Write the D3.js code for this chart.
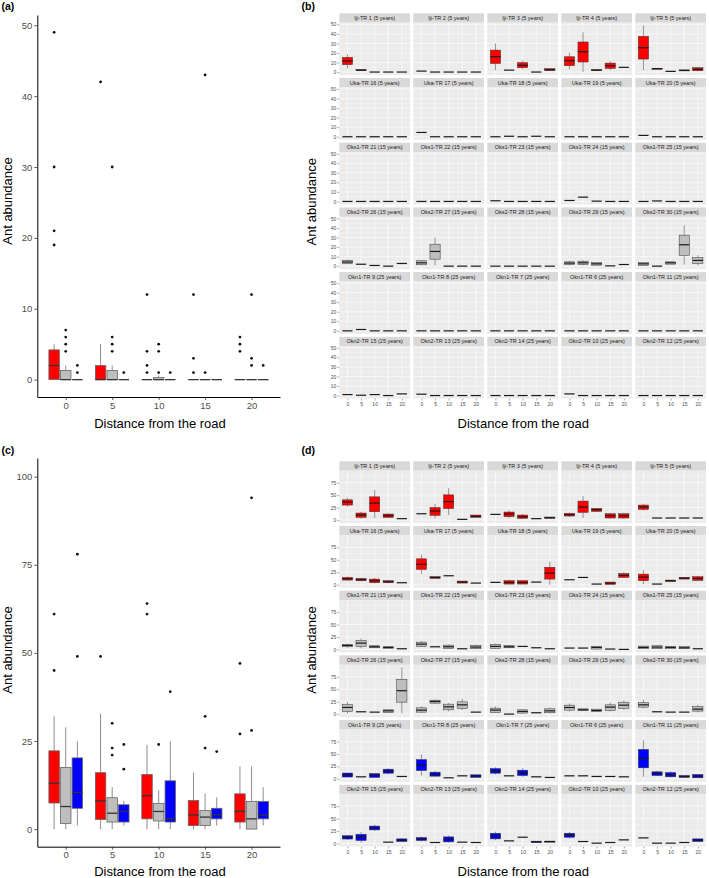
<!DOCTYPE html>
<html><head><meta charset="utf-8">
<script src="https://cdn.jsdelivr.net/npm/d3@7"></script>
<style>body{margin:0;background:#fff;} svg{display:block;}</style>
</head><body><svg id="c" width="709" height="878"></svg>
<script>
// ---------------- DATA ----------------
const distances = [0, 5, 10, 15, 20];
const ageGroups = ["5 years", "15 years", "25 years"];
const ageColors = ["#FF0000", "#BEBEBE", "#0000FF"];

// Box stats: [lowerWhisker, Q1, median, Q3, upperWhisker]; a single number = all equal (flat box)
// Panel (a): abundance per distance, by age group
const statsA5  = [[0,0,2,4.2,5], [0,0,0,2,5], 0, 0, 0];
const statsA15 = [[0,0,0,1.3,2], [0,0,0,1.3,2], [0,0,0,0.3,0.6], 0, 0];
const statsA25 = [0, 0, 0, 0, 0];
const outA5  = [[49,30,21,19], [42], [1,2,4,12], [1,3,12], [4,5,6]];
const outA15 = [[4,5,6,7], [4,5,6,30], [1,4,5], [1,43], [2,3,12]];
const outA25 = [[1,2], [1], [1], [], [2]];
const yTicksA = [0, 10, 20, 30, 40, 50];

// Panel (c)
const statsC5  = [[0,7.4,13,22.2,32], [0,2.7,8,16,32.8], [0,2.9,9.5,15.5,23.9], [0,1,4,8.1,16], [0,2,5,10,17.8]];
const statsC15 = [[0,1.6,6.4,17.5,28.9], [0,2,4.5,8.9,11.9], [0,2.3,5,7.3,11], [0,1,3.4,5.3,10], [0,0,2.9,7.8,17.8]];
const statsC25 = [[1,5.9,10.4,20.2,24.9], [1,2,5,6.9,8], [0,2,2.9,13.7,24.9], [1,2.9,4,5.9,9], [1,2.9,4,7.8,11.9]];
const outC5  = [[61,45], [49], [64,61], [], [47,27]];
const outC15 = [[], [30,23,21], [24], [32,23], [94,28]];
const outC25 = [[78,49], [24,17], [39], [22], []];
const yTicksC = [0, 25, 50, 75, 100];

// Facets (b) and (d): 6 rows x 5 columns
const transects = [
  "Iji-TR 1 (5 years)", "Iji-TR 2 (5 years)", "Iji-TR 3 (5 years)", "Iji-TR 4 (5 years)", "Iji-TR 5 (5 years)",
  "Uka-TR 16 (5 years)", "Uka-TR 17 (5 years)", "Uka-TR 18 (5 years)", "Uka-TR 19 (5 years)", "Uka-TR 20 (5 years)",
  "Oks1-TR 21 (15 years)", "Oks1-TR 22 (15 years)", "Oks1-TR 23 (15 years)", "Oks1-TR 24 (15 years)", "Oks1-TR 25 (15 years)",
  "Oks2-TR 26 (15 years)", "Oks2-TR 27 (15 years)", "Oks2-TR 28 (15 years)", "Oks2-TR 29 (15 years)", "Oks2-TR 30 (15 years)",
  "Okn1-TR 9 (25 years)", "Okn1-TR 8 (25 years)", "Okn1-TR 7 (25 years)", "Okn1-TR 6 (25 years)", "Okn1-TR 11 (25 years)",
  "Okn2-TR 15 (25 years)", "Okn2-TR 13 (25 years)", "Okn2-TR 14 (25 years)", "Okn2-TR 10 (25 years)", "Okn2-TR 12 (25 years)"
];
const transectAge = [0,0,0,0,0, 0,0,0,0,0, 1,1,1,1,1, 1,1,1,1,1, 2,2,2,2,2, 2,2,2,2,2];

const statsB = [
  [[3.8,7.7,11.5,15.4,18.5], [1.2,1.5,2,2.5,2.8], 0, 0, 0],
  [1, 0, 0, 0, 0],
  [[2,9,16,23,30], 2, [2.8,4.5,7,9.8,12], 0, [1,1.5,2.4,3.5,4]],
  [[2.8,6.6,11.9,16,20.6], [0.3,10.5,21.3,31.5,41.6], [1,1.5,2,2.5,3], [1.7,3.8,6.6,9.4,11.5], 4.9],
  [[2,13.6,25.5,37.4,49], [2.8,3,3.5,4,4.2], 0.7, [1,1.2,1.7,2.2,2.5], [0.7,1.4,2.8,4.5,5.6]],
  [0, 0, 0, 0, 0],
  [4.5, 0, 0, 0, 0],
  [0, 0.5, 0, 0.5, 0],
  [0, 0, 0, 0, 0],
  [1.4, 0, 0, 0, 0],
  [0, 0, 0, 0, 0],
  [0, 0, 0, 0, 0],
  [0.7, 0, 0, 0, 0],
  [1, 4.5, 0.3, 0, 0],
  [0, 0.5, 0, 0, 0],
  [[2,2.8,4.3,6,7], 2, 0.7, 0, 2.8],
  [[0.7,1.4,3.5,5.6,6.3], [0.7,7.3,15.4,23,30], 0, 0, 0],
  [0, 0, 0, 0, 0],
  [[0.7,1.7,3.2,4.5,5.6], [0.7,1.7,3.5,5.2,6.3], [1,1,2.4,3.8,3.8], 0.3, 1.7],
  [[0.7,0.7,2.4,3.8,3.8], 0, [2.1,2.1,3.5,4.5,4.5], [1.4,11.2,22.4,32.5,43], [0.7,2.8,6,9,11.5]],
  [0, 1.4, 0, 0, 0],
  [0, 0, 0, 0, 0],
  [0, 0, 0, 0, 0],
  [0, 0, 0, 0, 0],
  [0, 0, 0, 0, 0],
  [1, 0.3, 1, 0, 1.7],
  [1.4, 0, 0, 0, 0],
  [0, 0, 0, 0, 0],
  [1.7, 0, 0, 0, 0],
  [0, 0, 0, 0, 0]
];

const statsD = [
  [[26.6,30,36,40.5,45], [2.7,5.3,10,14,16.6], [4,16.6,34,46.5,60.5], [4,5.3,8.6,12,14], 2.7],
  [12.6, [3.3,9.3,18,25,32], [10,23,37,50.5,64], 1.3, [5.3,5.3,7.3,10,10]],
  [11.3, [4,6.6,12,16,19.3], [2,3.3,6.6,10,12], 2.7, [3.5,3.5,4.7,6,6]],
  [[6,8,10.6,13.3,15.3], [4,15.3,26,38,48.5], [16,17.3,20.6,23.3,24.6], [2,4,8.6,12.6,14.6], [2,4,8.6,12.6,14.6]],
  [[19.3,21.3,26,30,32.6], 4, 4, 4, 4],
  [[8,9.3,12,14.6,16.6], [6.6,8,10,12.6,14], [2.7,4,8,11.3,14], [2.7,4,6,8,10], 4],
  [[21.3,30.6,41,52,60.5], [12.6,12.6,14.6,16,16], 18, [3.3,3.3,5.3,7.3,7.3], 3.3],
  [4.7, [0,1.3,4.7,8,10], [1.3,1.3,4.7,8,8], 5.3, [0,11.3,23.3,35,46.5]],
  [10, 14.6, 1.3, [0.7,0.7,3.3,5.3,5.3], [13.3,14.6,18.6,22.6,25.3]],
  [[1.3,8,15.3,21.3,29.3], 1.3, [6.6,6.6,8,9.3,9.3], [11.3,11.3,13.3,14.6,14.6], [7.3,8.6,12.6,16,18]],
  [[3.3,5.3,8,10,12], [2,6,12.6,18,22], [2.7,3.3,5.3,7.3,8], [2,2,4,5.3,5.3], 1.3],
  [[4.7,6,10.6,14.6,16.6], 5.3, [1,2,5.3,8.6,10], 1.3, [0,1.3,4.7,8,10]],
  [[0.7,2,6,10,12], [3.3,3.3,5.3,8,8], 6, 3.3, 1.3],
  [2.7, 2.7, [0.7,0.7,4,6,6], 0.7, 0],
  [[1.3,1.3,4,6.6,6.6], [1.3,1.3,4.7,7.3,7.3], [1.3,1.3,4,6,6], [1.3,1.3,3.3,6,6], 1.3],
  [[0.8,5.4,13.4,18.8,24.7], 4.7, 4, [3.3,3.3,6.6,8.6,8.6], [2,24,47,70,94]],
  [[2.7,4,8,12.6,15.3], [20.6,22,25.3,28,30], [5.3,8.6,14.6,20,22.6], [8,11.3,18.6,24.6,30.6], 4],
  [[2,3.3,8,12,15.3], 0, [1.3,2,5.3,8.6,10], 2.7, [1.3,2.7,6.6,10.6,13.3]],
  [[5.3,8,13.3,18,21.3], [7.3,7.3,8.6,10.6,10.6], [5.3,5.3,7.3,10,10], [5.3,7.3,14,18.6,23.3], [8.6,11.3,18,24,27.3]],
  [[11.3,14,18.6,23.3,28.6], 4.7, 4, 4, [3.3,6,10,15.3,18.6]],
  [[3.6,3.6,7.6,11.6,11.6], 4, [2.7,2.7,6.6,10.6,10.6], [9.3,11.3,15.3,19.3,21.3], 4.7],
  [[6.6,16.6,28,38.6,49], [4,5.3,9.3,13.3,16], 2, 6, [2.7,2.7,5.3,8,8]],
  [[8.6,11.3,16,20.6,23.3], 6, [4,6.6,12,17.3,21.3], 4, 2.7],
  [6, 6, 4.7, 4.7, 4],
  [[4,22,41,59,77.8], [5.3,6.6,10.6,14,16], [2.7,4,8.6,12.6,15.3], [2.7,2.7,4.7,6.6,6.6], [2,2,5.3,8.6,8.6]],
  [[7,9,12.2,15.6,17], [2,6,12.6,18.6,23.3], [25.3,27.3,31.3,35,38], 2.7, [2.7,4,6.6,9.3,11.3]],
  [[4,6,9.3,12,14], 2, [2,3.3,8,13.3,16], 2.7, 2],
  [[6.6,9.3,15.3,20.6,24], 5.3, 12.6, [2,2,3.3,4.7,4.7], [2.7,2.7,4,4.7,4.7]],
  [[10,12.6,16.6,20.6,23.3], 4, 0.7, 2, 7.3],
  [11.3, 0.7, 0.7, 2, [2.7,4,6.6,9.3,9.3]]
];
const yTicksB = [0, 10, 20, 30, 40, 50];
const yMinorB = [5, 15, 25, 35, 45];
const yTicksD = [0, 25, 50, 75];
const yMinorD = [12.5, 37.5, 62.5, 87.5];

// ---------------- DRAWING ----------------
const FONT = '"Liberation Sans", Arial, Helvetica, sans-serif';
const svg = d3.select("#c").style("font-family", FONT);

function norm(s) { return Array.isArray(s) ? s : [s, s, s, s, s]; }

function drawBox(g, cx, w, st, yS, fill, o) {
  const [lo, q1, md, q3, hi] = norm(st);
  if (hi > q3) g.append("line").attr("x1", cx).attr("x2", cx).attr("y1", yS(hi)).attr("y2", yS(q3))
    .attr("stroke", o.wc).attr("stroke-width", o.sw);
  if (lo < q1) g.append("line").attr("x1", cx).attr("x2", cx).attr("y1", yS(q1)).attr("y2", yS(lo))
    .attr("stroke", o.wc).attr("stroke-width", o.sw);
  g.append("rect").attr("x", cx - w / 2).attr("y", yS(q3)).attr("width", w)
    .attr("height", Math.max(0, yS(q1) - yS(q3)))
    .attr("fill", fill).attr("stroke", o.oc).attr("stroke-width", o.sw);
  g.append("line").attr("x1", cx - w / 2).attr("x2", cx + w / 2).attr("y1", yS(md)).attr("y2", yS(md))
    .attr("stroke", o.mc).attr("stroke-width", o.mw);
}

function styleAxis(ax, size) {
  ax.select(".domain").attr("stroke", "#000").attr("stroke-width", 1);
  ax.selectAll(".tick line").attr("stroke", "#333").attr("stroke-width", 0.8);
  ax.selectAll(".tick text").attr("fill", "#4d4d4d").style("font-size", size + "px").style("font-family", FONT);
}

function classicPanel(cfg) {
  const g = svg.append("g");
  const x = d3.scaleLinear().domain([-3.06, 23.06]).range([37.3, 280]);
  const y = d3.scaleLinear().domain(cfg.yDomain).range([cfg.bottom, cfg.top]);
  const ay = g.append("g").attr("transform", "translate(37.3,0)")
    .call(d3.axisLeft(y).tickValues(cfg.yTicks).tickSize(3).tickSizeOuter(0).tickPadding(2));
  styleAxis(ay, 9.5);
  const ax = g.append("g").attr("transform", `translate(0,${cfg.bottom})`)
    .call(d3.axisBottom(x).tickValues(distances).tickSize(3).tickSizeOuter(0).tickPadding(2));
  styleAxis(ax, 9.5);
  const slot = 1.25, bw = x(slot * 0.9) - x(0);
  const opts = { wc: "#707070", oc: "#666", mc: "#333", sw: 0.8, mw: 1.3 };
  cfg.stats.forEach((arr, gi) => {
    arr.forEach((st, di) => {
      const cx = x(distances[di] + (gi - 1) * slot);
      drawBox(g, cx, bw, st, y, ageColors[gi], opts);
      cfg.outs[gi][di].forEach(v => {
        g.append("circle").attr("cx", cx).attr("cy", y(v)).attr("r", 1.4).attr("fill", "#111");
      });
    });
  });
  g.append("text").attr("x", 160).attr("y", cfg.xTitleY).attr("text-anchor", "middle")
    .style("font-size", "13px").attr("fill", "#000").text("Distance from the road");
  g.append("text").attr("transform", `translate(11.5,${cfg.yTitleC}) rotate(-90)`).attr("text-anchor", "middle")
    .style("font-size", "13px").attr("fill", "#000").text("Ant abundance");
}

function facetPanel(cfg) {
  const g = svg.append("g");
  const colLeft = c => 339.3 + c * 74;
  const panelW = 70.7, stripH = 9.4, panelH = 52.3, pitch = 64.7;
  const x = d3.scalePoint().domain(distances).range([0, panelW]).padding(0.6);
  const y = d3.scaleLinear().domain(cfg.yDomain).range([panelH, 0]);
  const bw = x.step() * 0.75;
  const opts = { wc: "#333", oc: "#333", mc: "#1a1a1a", sw: 0.5, mw: 1.2 };
  transects.forEach((name, i) => {
    const r = Math.floor(i / 5), c = i % 5;
    const sx = colLeft(c), sy = cfg.top + r * pitch;
    const fg = g.append("g").attr("transform", `translate(${sx},${sy})`);
    fg.append("rect").attr("width", panelW).attr("height", stripH).attr("fill", "#D9D9D9");
    fg.append("text").attr("x", panelW / 2).attr("y", stripH / 2 + 2).attr("text-anchor", "middle")
      .style("font-size", "5.5px").attr("fill", "#1a1a1a").text(name);
    const pg = fg.append("g").attr("transform", `translate(0,${stripH})`);
    pg.append("rect").attr("width", panelW).attr("height", panelH).attr("fill", "#EBEBEB");
    cfg.yMinor.forEach(v => pg.append("line").attr("x1", 0).attr("x2", panelW).attr("y1", y(v)).attr("y2", y(v))
      .attr("stroke", "#fff").attr("stroke-width", 0.3));
    cfg.yTicks.forEach(v => pg.append("line").attr("x1", 0).attr("x2", panelW).attr("y1", y(v)).attr("y2", y(v))
      .attr("stroke", "#fff").attr("stroke-width", 0.6));
    distances.forEach(d => pg.append("line").attr("x1", x(d)).attr("x2", x(d)).attr("y1", 0).attr("y2", panelH)
      .attr("stroke", "#fff").attr("stroke-width", 0.6));
    cfg.stats[i].forEach((st, di) => drawBox(pg, x(distances[di]), bw, st, y, ageColors[transectAge[i]], opts));
    if (c === 0) {
      const ay = pg.append("g").call(d3.axisLeft(y).tickValues(cfg.yTicks).tickSize(2).tickPadding(1));
      ay.select(".domain").remove();
      ay.selectAll(".tick line").attr("stroke", "#333").attr("stroke-width", 0.4);
      ay.selectAll(".tick text").attr("fill", "#4d4d4d").style("font-size", "5px").style("font-family", FONT);
    }
    if (r === 5) {
      const ax = pg.append("g").attr("transform", `translate(0,${panelH})`)
        .call(d3.axisBottom(x).tickSize(2).tickPadding(1.5));
      ax.select(".domain").remove();
      ax.selectAll(".tick line").attr("stroke", "#333").attr("stroke-width", 0.4);
      ax.selectAll(".tick text").attr("fill", "#4d4d4d").style("font-size", "5px").style("font-family", FONT);
    }
  });
  g.append("text").attr("x", 523.3).attr("y", cfg.xTitleY).attr("text-anchor", "middle")
    .style("font-size", "13px").attr("fill", "#000").text("Distance from the road");
  g.append("text").attr("transform", `translate(316,${cfg.yTitleC}) rotate(-90)`).attr("text-anchor", "middle")
    .style("font-size", "13px").attr("fill", "#000").text("Ant abundance");
}

classicPanel({ top: 15, bottom: 397, yDomain: [-2.45, 51.45], yTicks: yTicksA,
  stats: [statsA5, statsA15, statsA25], outs: [outA5, outA15, outA25], xTitleY: 427.5, yTitleC: 201 });
classicPanel({ top: 458, bottom: 846.7, yDomain: [-5, 105.3], yTicks: yTicksC,
  stats: [statsC5, statsC15, statsC25], outs: [outC5, outC15, outC25], xTitleY: 876, yTitleC: 650 });
facetPanel({ top: 13.3, yDomain: [-3.1, 51.7], yTicks: yTicksB, yMinor: yMinorB, stats: statsB, xTitleY: 427.5, yTitleC: 201.7 });
facetPanel({ top: 461.3, yDomain: [-6, 99], yTicks: yTicksD, yMinor: yMinorD, stats: statsD, xTitleY: 876, yTitleC: 650 });

const labels = [["(a)", 1.5, 10], ["(b)", 301.5, 10], ["(c)", 1.5, 454], ["(d)", 301.5, 454]];
labels.forEach(([t, lx, ly]) => svg.append("text").attr("x", lx).attr("y", ly)
  .style("font-size", "10.5px").style("font-weight", "bold").attr("fill", "#000").text(t));
</script>
</body></html>
